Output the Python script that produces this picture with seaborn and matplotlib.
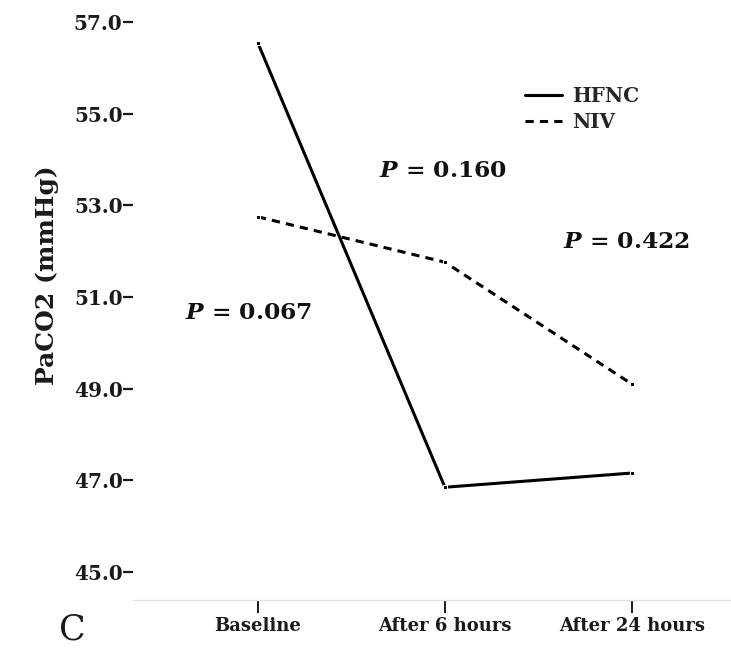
import matplotlib
matplotlib.use("Agg")
import matplotlib.pyplot as plt
from matplotlib.lines import Line2D
import numpy as np
import pandas as pd
import seaborn as sns

# PaCO2 (mmHg) at each time point, per ventilation strategy
timepoints = ["Baseline", "After 6 hours", "After 24 hours"]
hfnc = [56.54, 46.85, 47.16]
niv = [52.75, 51.76, 49.10]
groups = ["HFNC", "NIV"]

yticks = [45.0, 47.0, 49.0, 51.0, 53.0, 55.0, 57.0]

# between-group P values and where they are written (data coordinates)
p_labels = ["0.067", "0.160", "0.422"]
p_pos = [(-0.39, 50.65), (0.645, 53.75), (1.634, 52.19)]

df = pd.DataFrame({
    "Time": timepoints * 2,
    "PaCO2": hfnc + niv,
    "Group": [groups[0]] * len(hfnc) + [groups[1]] * len(niv),
})

sns.set_style("white")
plt.rcParams["font.family"] = ["DejaVu Serif"]
plt.rcParams["font.weight"] = "bold"
plt.rcParams["mathtext.fontset"] = "custom"
plt.rcParams["mathtext.it"] = "DejaVu Serif:italic:bold"
plt.rcParams["mathtext.rm"] = "DejaVu Serif:bold"

W, H = 731, 650
fig = plt.figure(figsize=(W / 100, H / 100), dpi=100)
ax = fig.add_axes([133 / W, 50 / H, (W - 133) / W, 600 / H])

lw = 2.2
dash = (2.7, 2.0)
sns.lineplot(
    data=df, x="Time", y="PaCO2", hue="Group", style="Group",
    palette={"HFNC": "black", "NIV": "black"},
    dashes={"HFNC": "", "NIV": dash},
    markers={"HFNC": "s", "NIV": "s"},
    markersize=3, linewidth=lw, sort=False, ax=ax, legend=False,
)

ax.set_xlim(-0.668, 2.53)
ax.set_ylim(44.39, 57.48)
ax.set_yticks(yticks)
ax.set_yticklabels([f"{v:.1f}" for v in yticks])
ax.set_xlabel("")
ax.set_ylabel("")

for side in ["top", "right", "left"]:
    ax.spines[side].set_visible(False)
ax.spines["bottom"].set_color("#e4e4e4")
ax.spines["bottom"].set_linewidth(1.0)

ax.tick_params(axis="y", direction="out", length=7, width=1.6, pad=0.5,
               colors="#1a1a1a", labelsize=14.4, left=True)
ax.tick_params(axis="x", direction="out", length=9, width=1.4, pad=3,
               colors="#1a1a1a", labelsize=13, bottom=True)
for lab in ax.get_xticklabels() + ax.get_yticklabels():
    lab.set_fontweight("bold")

fig.text(47 / W, 1 - 275 / H, "PaCO2 (mmHg)", rotation=90, ha="center",
         va="center", fontsize=18, fontweight="bold", color="#1a1a1a")

for txt, (x, y) in zip(p_labels, p_pos):
    ax.text(x, y, r"$P$ = " + txt, ha="left", va="center", fontsize=16.8,
            fontweight="bold", color="#111111")

handles = [
    Line2D([], [], color="black", lw=lw, ls="-"),
    Line2D([], [], color="black", lw=lw, ls=(0, dash)),
]
leg = ax.legend(handles, groups, loc="upper left",
                bbox_to_anchor=(525 / W, 1 - 86 / H), bbox_transform=fig.transFigure,
                frameon=False, handlelength=1.85, handletextpad=0.5,
                labelspacing=0.3, borderpad=0, borderaxespad=0,
                prop={"family": "DejaVu Serif", "weight": "bold", "size": 14.4})

fig.text(72 / W, 4 / H, "C", ha="center", va="bottom", fontsize=25,
         fontweight="normal", color="#1a1a1a")

fig.savefig("out.png", dpi=100, facecolor="white")
